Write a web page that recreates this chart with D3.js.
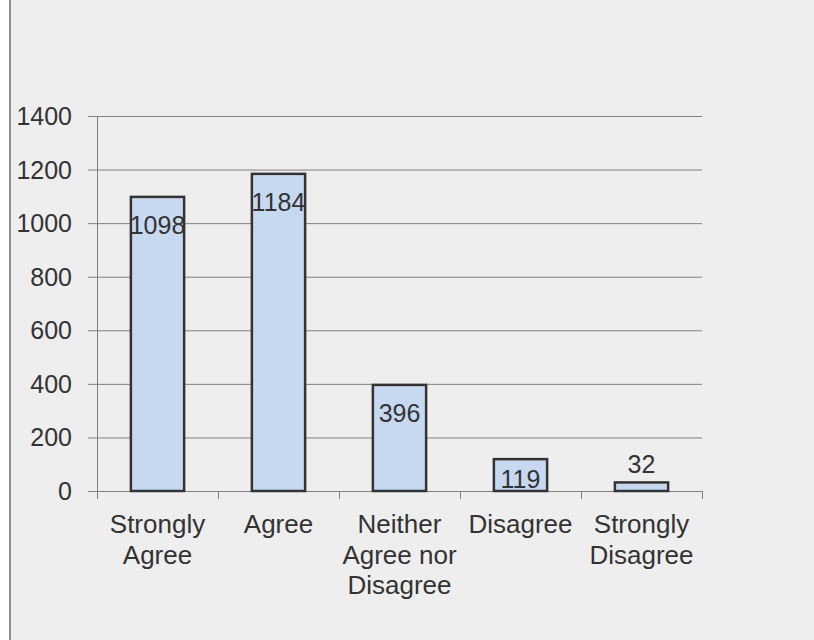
<!DOCTYPE html>
<html>
<head>
<meta charset="utf-8">
<script src="https://cdn.jsdelivr.net/npm/d3@7"></script>
<style>
  html, body { margin: 0; padding: 0; background: #ffffff; }
  svg { display: block; }
  text { font-family: "Liberation Sans", Arial, sans-serif; fill: #333333; }
</style>
</head>
<body>
<svg id="chart" width="814" height="640"></svg>
<script>
const categories = [
  ["Strongly", "Agree"],
  ["Agree"],
  ["Neither", "Agree nor", "Disagree"],
  ["Disagree"],
  ["Strongly", "Disagree"]
];
const categoryKeys = ["Strongly Agree", "Agree", "Neither Agree nor Disagree", "Disagree", "Strongly Disagree"];
const values = [1098, 1184, 396, 119, 32];
const yTicks = [0, 200, 400, 600, 800, 1000, 1200, 1400];

const svg = d3.select("#chart");
const W = 814, H = 640;

// chart area background and left border
svg.append("rect").attr("x", 10).attr("y", 0).attr("width", W - 10).attr("height", H).attr("fill", "#eeeeee");
svg.append("line").attr("x1", 10).attr("x2", 10).attr("y1", 0).attr("y2", H)
  .attr("stroke", "#8c8c8c").attr("stroke-width", 2);

const plot = { left: 97, right: 702, top: 116, bottom: 491 };

const x = d3.scaleBand().domain(categoryKeys).range([plot.left, plot.right]).padding(0);
const y = d3.scaleLinear().domain([0, 1400]).range([plot.bottom, plot.top]);

// gridlines + y ticks
const g = svg.append("g");
g.selectAll("line.grid").data(yTicks).join("line")
  .attr("class", "grid")
  .attr("x1", plot.left - 9).attr("x2", plot.right)
  .attr("y1", d => y(d) + 0.5).attr("y2", d => y(d) + 0.5)
  .attr("stroke", "#808080").attr("stroke-width", 1);

g.selectAll("text.ytick").data(yTicks).join("text")
  .attr("class", "ytick")
  .attr("x", 72).attr("y", d => y(d) + 9)
  .attr("text-anchor", "end")
  .attr("font-size", 25)
  .text(d => d);

// y axis line
g.append("line").attr("x1", plot.left + 0.5).attr("x2", plot.left + 0.5)
  .attr("y1", plot.top).attr("y2", plot.bottom + 8)
  .attr("stroke", "#808080").attr("stroke-width", 1);

// x ticks
const xTickPos = categoryKeys.map(k => x(k)).concat([plot.right]);
g.selectAll("line.xtick").data(xTickPos).join("line")
  .attr("class", "xtick")
  .attr("x1", d => Math.round(d) + 0.5).attr("x2", d => Math.round(d) + 0.5)
  .attr("y1", plot.bottom).attr("y2", plot.bottom + 8)
  .attr("stroke", "#808080").attr("stroke-width", 1);

// bars
const bw = x.bandwidth() * 0.44;
const bars = svg.append("g");
bars.selectAll("rect").data(values).join("rect")
  .attr("x", (d, i) => x(categoryKeys[i]) + x.bandwidth() / 2 - bw / 2)
  .attr("y", d => y(d))
  .attr("width", bw)
  .attr("height", d => y(0) - y(d))
  .attr("fill", "#c6d9f1")
  .attr("stroke", "#333333")
  .attr("stroke-width", 2.5);

// data labels
bars.selectAll("text").data(values).join("text")
  .attr("x", (d, i) => x(categoryKeys[i]) + x.bandwidth() / 2)
  .attr("y", d => {
    const top = y(d), h = y(0) - y(d);
    if (h < 25) return top - 9;
    return Math.min(top + 37, y(0) - 3);
  })
  .attr("text-anchor", "middle")
  .attr("font-size", 25)
  .text(d => d);

// category labels
const cl = svg.append("g");
categories.forEach((lines, i) => {
  const t = cl.append("text")
    .attr("x", x(categoryKeys[i]) + x.bandwidth() / 2)
    .attr("y", 533)
    .attr("text-anchor", "middle")
    .attr("font-size", 26);
  lines.forEach((ln, j) => {
    t.append("tspan")
      .attr("x", x(categoryKeys[i]) + x.bandwidth() / 2)
      .attr("y", 533 + j * 30.5)
      .text(ln);
  });
});
</script>
</body>
</html>
